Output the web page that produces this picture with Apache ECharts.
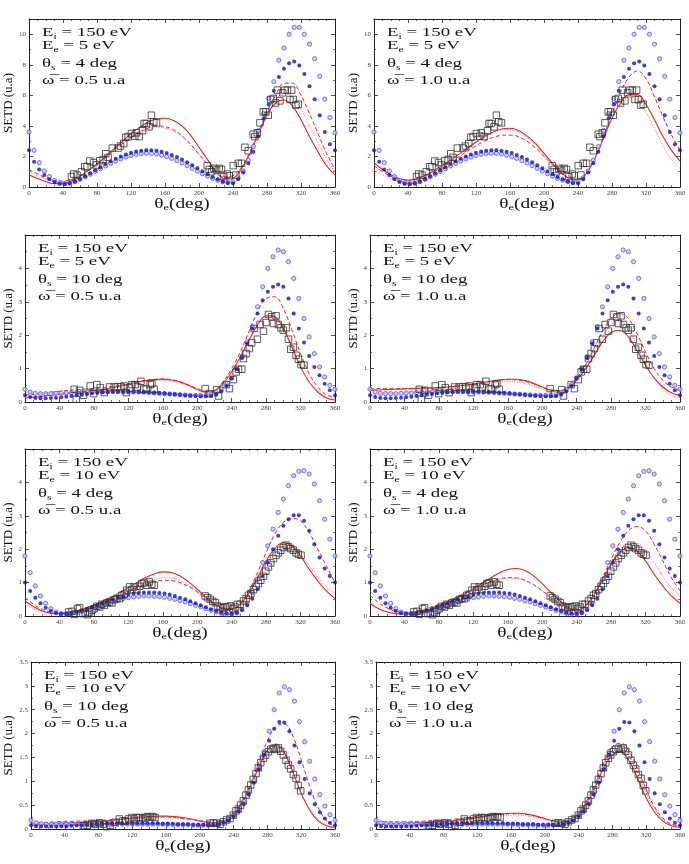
<!DOCTYPE html>
<html><head><meta charset="utf-8">
<script src="https://cdn.jsdelivr.net/npm/echarts@6/dist/echarts.min.js"></script>
<style>html,body{margin:0;padding:0;background:#fff}#c{width:689px;height:864px}</style>
</head><body><div id="c"></div>
<script>
// ---------- angle grids (deg) ----------
const thetaLine = [0,10,20,30,40,50,60,70,80,90,100,110,120,130,140,150,160,170,180,190,200,210,220,230,240,250,260,270,280,290,300,310,320,330,340,350,360];
const thetaBlue = [0,6,12,18,24,30,36,42,48,54,60,66,72,78,84,90,96,102,108,114,120,126,132,138,144,150,156,162,168,174,180,186,192,198,204,210,216,222,228,234,240,246,252,258,264,270,276,282,288,294,300,306,312,318,324,330,336,342,348,354,360];

// ---------- Row 1: Ee = 5 eV, theta_s = 4 deg ----------
const exp_r1 = [[50,0.68],[52.6,0.85],[56.5,0.78],[61.6,1.0],[65.6,1.33],[68.3,1.33],[71.5,1.7],[76,1.6],[79.3,1.44],[83.2,1.72],[87.2,1.8],[90.3,2.18],[93,1.94],[98,2.55],[104.8,2.55],[107.6,2.68],[111.5,2.85],[113.9,3.25],[116.6,3.3],[120.5,3.5],[124.5,3.33],[126.4,3.55],[129.6,3.3],[133.5,3.68],[135.4,4.16],[138,4.16],[141.3,3.94],[144,4.7],[146.8,4.27],[150,4.2],
 [209.7,1.4],[212,1.15],[214.8,1.0],[217.5,1.22],[220.7,1.11],[223.8,1.22],[226.5,1.15],[229.3,0.68],[233.2,0.85],[235.6,0.74],[240.3,1.4],[243.4,0.78],[246.2,1.55],[250,1.55],[254,2.6],[258,2.37],[263.8,3.46],[265.8,3.3],[268.5,3.55],[271.7,4.2],[275.6,4.92],[278.7,4.92],[281.5,4.7],[284.3,5.73],[287.4,5.8],[290,5.5],[292.1,6.34],[295.2,5.64],[298.4,6.17],[301,6.34],[304,6.34],[307,5.73],[309,6.34],[311,5.73],[314,5.36],[316.8,5.42]];
const blueOpen_r1 = [3.6,2.4,1.6,1.05,0.68,0.43,0.28,0.22,0.25,0.35,0.5,0.66,0.84,1.02,1.2,1.38,1.55,1.7,1.84,1.96,2.06,2.14,2.19,2.21,2.2,2.16,2.09,1.99,1.87,1.73,1.57,1.4,1.22,1.04,0.87,0.71,0.56,0.44,0.35,0.3,0.35,0.6,1.05,1.75,2.65,3.7,4.8,5.8,6.9,8.3,9.1,10.0,10.45,10.45,10.0,9.35,8.4,7.25,5.75,4.55,3.55];
const blueFill_r1 = [2.4,1.65,1.15,0.78,0.5,0.32,0.22,0.2,0.25,0.36,0.52,0.7,0.9,1.1,1.3,1.5,1.68,1.85,2.0,2.13,2.24,2.32,2.38,2.4,2.4,2.37,2.31,2.22,2.1,1.96,1.8,1.62,1.43,1.23,1.03,0.84,0.66,0.5,0.36,0.26,0.25,0.5,0.95,1.55,2.3,3.3,4.5,5.4,6.3,7.2,7.75,8.1,8.22,7.95,7.4,6.6,5.75,4.7,3.6,2.8,2.4];
const solid_p1  = [0.8,0.55,0.35,0.22,0.22,0.4,0.7,1.1,1.5,2.0,2.5,3.0,3.5,3.9,4.25,4.45,4.5,4.35,4.0,3.4,2.6,1.8,1.0,0.55,0.6,1.2,2.2,3.5,4.7,5.5,5.7,5.3,4.4,3.3,2.3,1.4,0.8];
const dashed_p1 = [1.15,0.85,0.6,0.42,0.38,0.5,0.75,1.1,1.5,1.95,2.4,2.85,3.25,3.6,3.85,4.0,3.95,3.75,3.35,2.8,2.15,1.5,0.95,0.65,0.75,1.3,2.3,3.6,4.9,6.0,6.8,6.8,6.0,4.8,3.5,2.2,1.15];
const dotted_p1 = [1.0,0.75,0.5,0.35,0.33,0.48,0.72,1.05,1.45,1.9,2.35,2.8,3.2,3.5,3.75,3.9,3.85,3.65,3.3,2.75,2.1,1.5,0.95,0.68,0.78,1.3,2.3,3.55,4.8,5.7,6.1,5.9,5.1,4.0,2.9,1.8,1.0];
const solid_p2  = [1.6,1.15,0.8,0.55,0.45,0.55,0.75,1.05,1.4,1.75,2.15,2.55,2.95,3.3,3.6,3.8,3.85,3.7,3.35,2.85,2.2,1.55,0.95,0.55,0.45,0.9,1.9,3.2,4.5,5.5,6.05,6.05,5.4,4.4,3.3,2.4,1.7];
const dashed_p2 = [1.4,1.0,0.7,0.5,0.45,0.55,0.75,1.0,1.3,1.65,2.0,2.35,2.7,3.0,3.25,3.38,3.4,3.3,3.0,2.55,2.0,1.45,0.9,0.55,0.5,0.9,1.9,3.3,4.8,6.2,7.2,7.6,7.1,5.9,4.6,3.4,2.4];
const dotted_p2 = [1.1,0.8,0.55,0.4,0.35,0.45,0.65,0.95,1.3,1.7,2.1,2.5,2.9,3.25,3.55,3.72,3.75,3.6,3.25,2.75,2.1,1.5,0.92,0.55,0.48,0.9,1.9,3.2,4.5,5.4,5.85,5.7,4.9,3.8,2.7,1.8,1.2];

// ---------- Row 2: Ee = 5 eV, theta_s = 10 deg ----------
const exp_r2 = [[57.2,0.38],[59.6,0.08],[63.4,0.35],[68,0.2],[75.8,0.48],[79.7,0.25],[83.5,0.52],[87.4,0.43],[92,0.28],[98.2,0.45],[103.6,0.45],[107.5,0.46],[111.4,0.45],[115.2,0.48],[117.6,0.28],[121.4,0.42],[124.1,0.52],[128,0.52],[130.7,0.45],[134.6,0.62],[137.7,0.38],[140.8,0.4],[145.4,0.52],[147.3,0.55],[150,0.38],
 [209.2,0.4],[214.2,0.25],[222.7,0.37],[224.7,0.18],[233.6,0.52],[237.4,0.4],[242,0.67],[245.2,0.9],[247.9,0.98],[251.7,0.98],[253.7,1.3],[256.8,1.45],[260.6,1.6],[263.3,1.77],[266,2.2],[269.9,1.88],[273,2.32],[276.9,2.12],[279.9,2.38],[282.7,2.62],[286.5,2.55],[288.5,2.35],[291.6,2.58],[294.3,2.32],[297.4,2.22],[300,2.15],[303.2,2.22],[305.9,1.88],[308.6,1.58],[311.7,1.64],[314.8,1.4],[317.5,1.28],[320.6,1.12],[324,1.1]];
const blueOpen_r2 = [0.38,0.3,0.26,0.25,0.25,0.25,0.26,0.27,0.27,0.28,0.29,0.3,0.3,0.31,0.31,0.31,0.31,0.31,0.31,0.3,0.3,0.3,0.3,0.29,0.28,0.27,0.26,0.25,0.24,0.23,0.22,0.21,0.2,0.2,0.2,0.2,0.22,0.28,0.38,0.52,0.72,1.0,1.35,1.8,2.25,2.85,3.45,4.0,4.35,4.55,4.5,4.2,3.7,3.1,2.5,1.95,1.45,1.05,0.75,0.5,0.38];
const blueFill_r2 = [0.2,0.15,0.12,0.11,0.11,0.12,0.13,0.14,0.16,0.18,0.2,0.22,0.24,0.26,0.28,0.29,0.3,0.31,0.31,0.31,0.31,0.31,0.3,0.3,0.29,0.28,0.27,0.26,0.24,0.23,0.22,0.2,0.19,0.18,0.17,0.17,0.18,0.22,0.32,0.48,0.7,0.98,1.32,1.75,2.2,2.65,3.05,3.3,3.45,3.52,3.45,3.1,2.65,2.2,1.78,1.38,1.05,0.8,0.55,0.35,0.2];
const solid_p3  = [0.12,0.14,0.17,0.2,0.23,0.26,0.29,0.32,0.35,0.38,0.42,0.47,0.53,0.59,0.64,0.67,0.68,0.66,0.6,0.5,0.38,0.3,0.34,0.55,0.9,1.35,1.85,2.3,2.58,2.55,2.2,1.65,1.05,0.6,0.3,0.12,0.06];
const dashed_p3 = [0.2,0.23,0.26,0.29,0.32,0.35,0.37,0.39,0.41,0.43,0.46,0.5,0.55,0.6,0.65,0.68,0.69,0.67,0.61,0.51,0.4,0.32,0.36,0.6,1.0,1.5,2.1,2.7,3.1,3.15,2.8,2.15,1.45,0.85,0.45,0.22,0.14];
const dotted_p3 = [0.15,0.17,0.2,0.23,0.26,0.28,0.31,0.33,0.36,0.39,0.43,0.47,0.52,0.57,0.61,0.64,0.65,0.63,0.57,0.48,0.37,0.3,0.34,0.56,0.92,1.38,1.88,2.32,2.57,2.52,2.15,1.6,1.05,0.6,0.32,0.15,0.1];
const solid_p4  = [0.35,0.36,0.37,0.38,0.39,0.4,0.41,0.42,0.43,0.45,0.47,0.5,0.54,0.58,0.62,0.66,0.68,0.68,0.64,0.56,0.45,0.35,0.32,0.42,0.65,0.98,1.38,1.8,2.08,2.15,1.95,1.55,1.1,0.72,0.45,0.28,0.2];
const dashed_p4 = [0.4,0.4,0.4,0.4,0.4,0.41,0.42,0.43,0.44,0.46,0.48,0.5,0.54,0.58,0.62,0.65,0.67,0.66,0.62,0.54,0.44,0.36,0.34,0.45,0.72,1.1,1.6,2.1,2.5,2.65,2.5,2.05,1.5,1.0,0.65,0.45,0.35];
const dotted_p4 = [0.2,0.22,0.24,0.26,0.28,0.3,0.32,0.34,0.36,0.39,0.42,0.45,0.49,0.53,0.57,0.6,0.61,0.6,0.56,0.48,0.39,0.32,0.32,0.44,0.7,1.05,1.5,1.95,2.3,2.42,2.2,1.7,1.15,0.7,0.38,0.2,0.12];

// ---------- Row 3: Ee = 10 eV, theta_s = 4 deg ----------
const exp_r3 = [[50.7,0.12],[54.5,0.14],[57.2,0.05],[61,0.22],[63.4,0.25],[67.3,0.07],[70,0.09],[72.7,0.04],[75,0.12],[77.7,0.17],[80.4,0.22],[83.5,0.29],[86.6,0.27],[89.3,0.35],[92,0.32],[95.1,0.39],[98.2,0.42],[100.9,0.39],[103.6,0.49],[106.7,0.52],[109.8,0.52],[112.5,0.62],[115.2,0.65],[118.3,0.77],[121.4,0.87],[124.1,0.79],[126.8,0.87],[129.9,0.79],[133,0.89],[135.7,0.97],[138.4,0.99],[141.5,0.92],[144.2,1.02],[147.3,0.95],[150,0.92],
 [209.2,0.6],[211.9,0.55],[215,0.5],[218,0.44],[220.8,0.4],[223.5,0.3],[226.6,0.27],[229.7,0.24],[232.4,0.27],[235.1,0.27],[238.2,0.3],[241.3,0.22],[244,0.27],[246.7,0.35],[249.8,0.35],[253.7,0.45],[256.8,0.52],[259.5,0.62],[262.2,0.67],[265.3,0.79],[268.4,0.89],[271,0.97],[273.8,1.07],[276.9,1.19],[279.6,1.34],[282.7,1.47],[285.4,1.59],[288.5,1.72],[291.6,1.82],[294.3,1.89],[297,1.97],[300,2.05],[303.2,2.12],[305.9,2.07],[308.6,2.02],[311.7,1.97],[314.8,1.89],[317.5,1.85],[320.6,1.82]];
const blueOpen_r3 = [1.8,1.3,0.9,0.6,0.38,0.22,0.12,0.07,0.06,0.07,0.1,0.14,0.18,0.23,0.28,0.33,0.38,0.43,0.48,0.52,0.55,0.57,0.59,0.6,0.6,0.59,0.58,0.56,0.53,0.5,0.46,0.42,0.37,0.32,0.27,0.22,0.17,0.12,0.08,0.06,0.06,0.1,0.2,0.38,0.7,1.1,1.6,2.1,2.6,3.1,3.5,3.9,4.2,4.33,4.35,4.25,3.95,3.45,2.9,2.3,1.8];
const blueFill_r3 = [1.0,0.75,0.55,0.38,0.25,0.15,0.09,0.07,0.07,0.09,0.12,0.16,0.21,0.26,0.32,0.38,0.44,0.5,0.55,0.6,0.64,0.67,0.69,0.7,0.7,0.7,0.69,0.67,0.64,0.6,0.55,0.5,0.44,0.38,0.32,0.26,0.2,0.15,0.1,0.08,0.07,0.1,0.18,0.32,0.52,0.8,1.2,1.6,2.0,2.4,2.7,2.9,3.02,3.02,2.85,2.55,2.15,1.75,1.42,1.2,1.0];
const solid_p5  = [0.45,0.28,0.15,0.08,0.07,0.1,0.16,0.24,0.33,0.44,0.56,0.7,0.85,1.0,1.15,1.26,1.32,1.3,1.2,1.02,0.8,0.57,0.36,0.22,0.2,0.35,0.68,1.15,1.65,2.02,2.2,2.1,1.8,1.4,1.05,0.75,0.52];
const dashed_p5 = [0.55,0.35,0.2,0.12,0.1,0.12,0.17,0.24,0.32,0.41,0.51,0.62,0.73,0.84,0.94,1.02,1.07,1.06,1.0,0.88,0.72,0.53,0.36,0.24,0.22,0.38,0.75,1.3,1.9,2.45,2.8,2.92,2.85,2.5,2.0,1.5,1.0];
const dotted_p5 = [0.35,0.22,0.13,0.08,0.07,0.1,0.16,0.23,0.31,0.41,0.52,0.63,0.75,0.87,0.99,1.09,1.15,1.14,1.06,0.92,0.74,0.54,0.36,0.23,0.21,0.36,0.7,1.18,1.68,2.02,2.15,2.1,1.85,1.5,1.15,0.88,0.68];
const solid_p6  = [0.38,0.22,0.12,0.07,0.06,0.09,0.14,0.21,0.3,0.4,0.52,0.66,0.82,0.98,1.14,1.29,1.39,1.42,1.36,1.2,0.97,0.71,0.46,0.26,0.17,0.3,0.62,1.08,1.55,1.9,2.05,1.95,1.65,1.25,0.9,0.6,0.38];
const dashed_p6 = [0.62,0.4,0.24,0.14,0.11,0.13,0.18,0.26,0.35,0.45,0.56,0.68,0.8,0.92,1.03,1.11,1.15,1.14,1.07,0.94,0.76,0.55,0.36,0.22,0.17,0.3,0.65,1.15,1.7,2.2,2.55,2.68,2.55,2.15,1.65,1.15,0.75];
const dotted_p6 = [0.75,0.5,0.3,0.17,0.12,0.13,0.18,0.26,0.35,0.45,0.56,0.68,0.8,0.92,1.02,1.1,1.13,1.12,1.05,0.92,0.74,0.54,0.36,0.22,0.17,0.3,0.62,1.08,1.58,1.98,2.18,2.18,1.95,1.6,1.2,0.85,0.6];

// ---------- Row 4: Ee = 10 eV, theta_s = 10 deg ----------
const exp_r4 = [[62,0.07],[66.7,0.08],[71.9,0.12],[75.8,0.1],[81,0.13],[85.7,0.1],[89.6,0.05],[93.6,0.08],[99.5,0.14],[104.6,0.21],[108.6,0.17],[111.3,0.17],[115.3,0.21],[119.2,0.24],[122,0.21],[125,0.24],[128.3,0.24],[132.3,0.22],[135,0.24],[137.8,0.26],[141,0.25],[144,0.26],[146.9,0.24],
 [212,0.12],[216,0.13],[220,0.12],[223.9,0.1],[227.8,0.15],[231.7,0.19],[235.7,0.22],[239.6,0.29],[242.8,0.38],[245.6,0.42],[248.3,0.5],[251.5,0.59],[254.6,0.71],[257.4,0.82],[260.2,0.92],[263.3,1.04],[266.5,1.16],[269.2,1.28],[272,1.39],[275.2,1.48],[277.9,1.55],[281.1,1.62],[283.9,1.67],[287,1.69],[290.2,1.67],[292.9,1.7],[295.7,1.63],[298.9,1.55],[302,1.44],[304.8,1.34],[307.5,1.26],[310.7,1.14],[313.9,1.06],[316.6,0.91],[319.4,0.8]];
const blueOpen_r4 = [0.18,0.13,0.11,0.1,0.1,0.1,0.1,0.1,0.1,0.1,0.1,0.1,0.1,0.1,0.1,0.1,0.1,0.1,0.1,0.1,0.1,0.1,0.1,0.1,0.1,0.1,0.1,0.1,0.09,0.09,0.09,0.09,0.08,0.08,0.08,0.08,0.09,0.11,0.15,0.21,0.3,0.42,0.58,0.78,1.02,1.3,1.62,2.05,2.5,2.85,2.98,2.92,2.68,2.25,1.83,1.42,1.05,0.72,0.48,0.3,0.18];
const blueFill_r4 = [0.08,0.06,0.05,0.05,0.05,0.05,0.06,0.06,0.07,0.08,0.08,0.09,0.1,0.1,0.11,0.11,0.12,0.12,0.12,0.12,0.12,0.12,0.12,0.12,0.12,0.12,0.11,0.11,0.11,0.1,0.1,0.1,0.09,0.09,0.09,0.09,0.09,0.1,0.13,0.18,0.26,0.37,0.52,0.72,0.97,1.25,1.55,1.85,2.1,2.24,2.23,2.05,1.75,1.4,1.05,0.75,0.52,0.35,0.22,0.13,0.08];
const solid_p7  = [0.08,0.09,0.1,0.11,0.12,0.13,0.14,0.15,0.16,0.17,0.19,0.21,0.23,0.25,0.26,0.27,0.27,0.26,0.24,0.21,0.17,0.14,0.13,0.17,0.3,0.55,0.9,1.3,1.65,1.78,1.6,1.2,0.75,0.4,0.17,0.07,0.03];
const dashed_p7 = [0.12,0.13,0.14,0.15,0.16,0.16,0.17,0.17,0.18,0.19,0.2,0.21,0.22,0.23,0.24,0.25,0.25,0.24,0.22,0.2,0.17,0.15,0.14,0.18,0.32,0.58,0.95,1.4,1.85,2.15,2.2,1.95,1.45,0.9,0.45,0.17,0.05];
const dotted_p7 = [0.1,0.11,0.12,0.13,0.14,0.14,0.15,0.16,0.17,0.18,0.19,0.2,0.22,0.23,0.24,0.25,0.25,0.24,0.22,0.2,0.17,0.14,0.13,0.17,0.3,0.55,0.9,1.28,1.6,1.72,1.55,1.18,0.75,0.42,0.2,0.08,0.04];
const solid_p8  = [0.1,0.1,0.11,0.11,0.12,0.13,0.14,0.15,0.16,0.17,0.19,0.21,0.24,0.27,0.3,0.32,0.33,0.33,0.31,0.27,0.22,0.17,0.14,0.17,0.3,0.55,0.9,1.3,1.55,1.62,1.42,1.05,0.65,0.35,0.16,0.07,0.04];
const dashed_p8 = [0.15,0.15,0.15,0.15,0.15,0.16,0.17,0.18,0.19,0.2,0.22,0.24,0.26,0.28,0.3,0.31,0.32,0.32,0.3,0.26,0.21,0.17,0.15,0.19,0.33,0.6,0.98,1.4,1.72,1.8,1.62,1.25,0.82,0.46,0.22,0.1,0.07];
const dotted_p8 = [0.12,0.12,0.12,0.12,0.13,0.14,0.15,0.16,0.17,0.18,0.19,0.21,0.23,0.25,0.27,0.28,0.29,0.29,0.27,0.24,0.2,0.16,0.14,0.17,0.31,0.57,0.93,1.33,1.62,1.7,1.52,1.15,0.75,0.42,0.2,0.09,0.05];

// ---------- labels ----------
const eeLabels = ['5 eV','5 eV','10 eV','10 eV'];
const thsLabels = ['4 deg','10 deg','4 deg','10 deg'];
const omegaLabels = ['0.5 u.a','1.0 u.a'];
const yMax = [11,5,5,3.5];
const yInterval = [2,1,1,0.5];

// ---------- layout / build ----------
const FONT = 'Liberation Serif';
const rows = [
  {T:19,B:187,L:[29,374],gap:12,exp:exp_r1,bo:blueOpen_r1,bf:blueFill_r1,lines:[[solid_p1,dashed_p1,dotted_p1],[solid_p2,dashed_p2,dotted_p2]]},
  {T:235,B:402,L:[25,370],gap:10,exp:exp_r2,bo:blueOpen_r2,bf:blueFill_r2,lines:[[solid_p3,dashed_p3,dotted_p3],[solid_p4,dashed_p4,dotted_p4]]},
  {T:449,B:616,L:[25,370],gap:10,exp:exp_r3,bo:blueOpen_r3,bf:blueFill_r3,lines:[[solid_p5,dashed_p5,dotted_p5],[solid_p6,dashed_p6,dotted_p6]]},
  {T:662,B:829,L:[31,376],gap:15,exp:exp_r4,bo:blueOpen_r4,bf:blueFill_r4,lines:[[solid_p7,dashed_p7,dotted_p7],[solid_p8,dashed_p8,dotted_p8]]}
];
const RIGHT = [335,680];

const grids=[],xAxes=[],yAxes=[],series=[],graphics=[];
const pairs = (xs,ys)=>xs.map((x,i)=>[x,ys[i]]);
const lineCol = '#222';
const legendRich = {
  n:{fontFamily:FONT,fontSize:13,fill:'#111',lineHeight:16},
  s:{fontFamily:FONT,fontSize:8,fill:'#111',lineHeight:8,verticalAlign:'bottom'}
};
const titleRich = {
  t:{fontFamily:FONT,fontSize:14,fill:'#111',lineHeight:16},
  s:{fontFamily:FONT,fontSize:9,fill:'#111',lineHeight:9,verticalAlign:'bottom'}
};
rows.forEach((r,ri)=>{
  [0,1].forEach(ci=>{
    const gi = grids.length;
    const L=r.L[ci], R=RIGHT[ci];
    grids.push({left:L,top:r.T,width:R-L,height:r.B-r.T,containLabel:false});
    const tickCommon = {show:true,inside:true,length:4,lineStyle:{color:lineCol,width:0.8}};
    const minorX = {show:true,splitNumber:4,length:2,lineStyle:{color:lineCol,width:0.6}};
    const minorY = {show:true,splitNumber:2,length:2,lineStyle:{color:lineCol,width:0.6}};
    xAxes.push({gridIndex:gi,type:'value',min:0,max:360,interval:40,position:'bottom',
      axisLine:{show:true,onZero:false,lineStyle:{color:lineCol,width:1}},
      axisTick:tickCommon,minorTick:minorX,splitLine:{show:false},
      axisLabel:{fontFamily:FONT,fontSize:7,color:'#444',margin:3}});
    xAxes.push({gridIndex:gi,type:'value',min:0,max:360,interval:40,position:'top',
      axisLine:{show:true,onZero:false,lineStyle:{color:lineCol,width:1}},
      axisTick:tickCommon,minorTick:minorX,splitLine:{show:false},axisLabel:{show:false}});
    yAxes.push({gridIndex:gi,type:'value',min:0,max:yMax[ri],interval:yInterval[ri],position:'left',
      axisLine:{show:true,onZero:false,lineStyle:{color:lineCol,width:1}},
      axisTick:tickCommon,minorTick:minorY,splitLine:{show:false},
      axisLabel:{fontFamily:FONT,fontSize:7,color:'#444',margin:3,showMaxLabel:ri===3},
      name:'SETD (u.a)',nameLocation:'middle',nameGap:r.gap,
      nameTextStyle:{fontFamily:FONT,fontSize:13,color:'#111'}});
    yAxes.push({gridIndex:gi,type:'value',min:0,max:yMax[ri],interval:yInterval[ri],position:'right',
      axisLine:{show:true,onZero:false,lineStyle:{color:lineCol,width:1}},
      axisTick:tickCommon,minorTick:minorY,splitLine:{show:false},axisLabel:{show:false}});
    const xi = gi*2, yi = gi*2;
    const [sol,das,dot] = r.lines[ci];
    series.push({type:'line',xAxisIndex:xi,yAxisIndex:yi,data:pairs(thetaLine,sol),smooth:0.4,showSymbol:false,symbol:'none',lineStyle:{color:'#e8241c',width:1.1,type:'solid'},silent:true,z:3});
    series.push({type:'line',xAxisIndex:xi,yAxisIndex:yi,data:pairs(thetaLine,das),smooth:0.4,showSymbol:false,symbol:'none',lineStyle:{color:'#e8241c',width:1,type:[4,2.5]},silent:true,z:3});
    series.push({type:'line',xAxisIndex:xi,yAxisIndex:yi,data:pairs(thetaLine,dot),smooth:0.4,showSymbol:false,symbol:'none',lineStyle:{color:'#ff5fa8',width:1,type:[1,1.5]},silent:true,z:3});
    series.push({type:'scatter',xAxisIndex:xi,yAxisIndex:yi,data:pairs(thetaBlue,r.bo),symbol:'circle',symbolSize:4.2,itemStyle:{color:'#c4c4ff',borderColor:'#4a4af0',borderWidth:0.9},silent:true,z:4});
    series.push({type:'scatter',xAxisIndex:xi,yAxisIndex:yi,data:pairs(thetaBlue,r.bf),symbol:'circle',symbolSize:4,itemStyle:{color:'#0a0ae6'},silent:true,z:5});
    series.push({type:'scatter',xAxisIndex:xi,yAxisIndex:yi,data:r.exp,symbol:'rect',symbolSize:6.5,itemStyle:{color:'rgba(255,255,255,0)',borderColor:'#333',borderWidth:1},silent:true,z:6});
    // x-axis title (horizontally stretched like the reference)
    graphics.push({type:'text',x:(L+R)/2,y:r.B+9,scaleX:1.38,silent:true,z:10,
      style:{text:'{t|θ}{s|e}{t|(deg)}',rich:titleRich,fill:'#111',align:'center',verticalAlign:'top'}});
    // legend text block
    const tx = L+13, T=r.T;
    const texts = [
      '{n|E}{s|i}{n| = 150 eV}',
      '{n|E}{s|e}{n| = '+eeLabels[ri]+'}',
      '{n|θ}{s|s}{n| = '+thsLabels[ri]+'}',
      '{n|ω\u0305 = '+omegaLabels[ci]+'}'
    ];
    const offs = [18,31,48.5,66];
    texts.forEach((t,k)=>{
      graphics.push({type:'text',x:tx,y:T+offs[k]-12,scaleX:1.45,silent:true,z:10,
        style:{text:t,rich:legendRich,fill:'#111',align:'left',verticalAlign:'top'}});
    });
  });
});

const chart = echarts.init(document.getElementById('c'),null,{renderer:'canvas'});
chart.setOption({animation:false,backgroundColor:'#fff',grid:grids,xAxis:xAxes,yAxis:yAxes,series:series,graphic:graphics});
</script></body></html>
